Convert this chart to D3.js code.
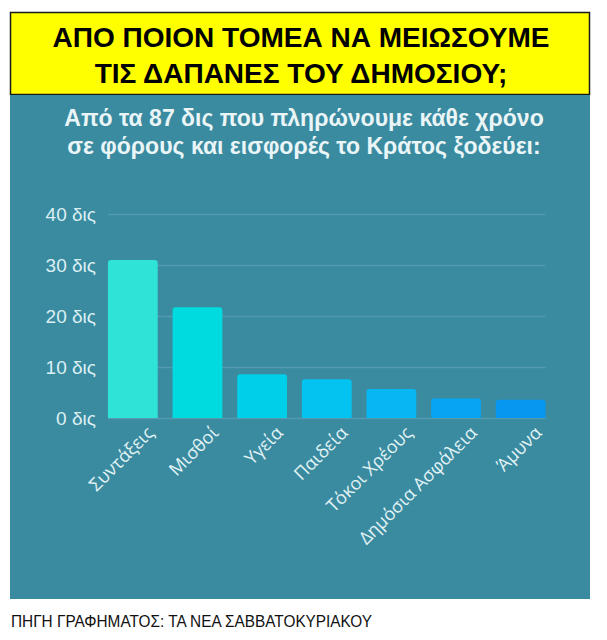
<!DOCTYPE html>
<html>
<head>
<meta charset="utf-8">
<script src="https://cdn.jsdelivr.net/npm/d3@7"></script>
<style>
  html, body { margin: 0; padding: 0; background: #ffffff; }
  svg { display: block; }
</style>
</head>
<body>
<svg id="chart" width="607" height="640"></svg>
<script>
// ---- data ----
const headline = ["ΑΠΟ ΠΟΙΟΝ ΤΟΜΕΑ ΝΑ ΜΕΙΩΣΟΥΜΕ", "ΤΙΣ ΔΑΠΑΝΕΣ ΤΟΥ ΔΗΜΟΣΙΟΥ;"];
const subtitle = ["Από τα 87 δις που πληρώνουμε κάθε χρόνο", "σε φόρους και εισφορές το Κράτος ξοδεύει:"];
const categories = ["Συντάξεις", "Μισθοί", "Υγεία", "Παιδεία", "Τόκοι Χρέους", "Δημόσια Ασφάλεια", "Άμυνα"];
const values = [31.0, 21.7, 8.6, 7.6, 5.7, 3.8, 3.6];
const barColors = ["#2fe3d6", "#00dbdf", "#00cfe9", "#05c3f0", "#09b6f4", "#06a4f3", "#0797f1"];
const yTicks = [0, 10, 20, 30, 40];
const yTickLabels = ["0 δις", "10 δις", "20 δις", "30 δις", "40 δις"];
const footer = "ΠΗΓΗ ΓΡΑΦΗΜΑΤΟΣ: ΤΑ ΝΕΑ ΣΑΒΒΑΤΟΚΥΡΙΑΚΟΥ";

// ---- drawing ----
const svg = d3.select("#chart");

// yellow headline box
svg.append("rect").attr("x", 10.5).attr("y", 12.5).attr("width", 579).attr("height", 82)
  .attr("fill", "#ffff00").attr("stroke", "#1a1a1a").attr("stroke-width", 1.5);
svg.selectAll("text.headline").data(headline).join("text")
  .attr("class", "headline")
  .attr("x", 301).attr("y", (d, i) => 47 + i * 36)
  .attr("text-anchor", "middle")
  .attr("font-family", "Liberation Sans, Arial, sans-serif")
  .attr("font-weight", "bold").attr("font-size", 28)
  .attr("fill", "#000")
  .text(d => d);

// teal panel
svg.append("rect").attr("x", 10).attr("y", 95).attr("width", 580).attr("height", 504)
  .attr("fill", "#3a8ba0");

svg.selectAll("text.sub").data(subtitle).join("text")
  .attr("class", "sub")
  .attr("x", 304).attr("y", (d, i) => 126 + i * 28)
  .attr("text-anchor", "middle")
  .attr("font-family", "Liberation Sans, Arial, sans-serif")
  .attr("font-weight", "bold").attr("font-size", 23)
  .attr("fill", "#eaf5f7")
  .text(d => d);

const x = d3.scaleBand().domain(categories).range([100.5, 553]).paddingInner(0.23).paddingOuter(0.115);
const y = d3.scaleLinear().domain([0, 40]).range([418, 214]);

const gx0 = x(categories[0]);
const gx1 = x(categories[categories.length - 1]) + x.bandwidth();

// y axis with gridlines
const yAxis = d3.axisLeft(y).tickValues(yTicks)
  .tickFormat((d, i) => yTickLabels[i])
  .tickSize(-(gx1 - gx0)).tickPadding(12);
const gy = svg.append("g").attr("transform", `translate(${gx0},0)`).call(yAxis);
gy.select(".domain").remove();
gy.selectAll(".tick line").attr("stroke", "#ffffff").attr("stroke-opacity", 0.13).attr("stroke-width", 1.5);
gy.selectAll(".tick text")
  .attr("font-family", "Liberation Sans, Arial, sans-serif")
  .attr("font-size", 19).attr("fill", "#dcf0f4");

// bars with rounded top corners
const r = 3;
svg.selectAll("path.bar").data(values).join("path")
  .attr("class", "bar")
  .attr("fill", (d, i) => barColors[i])
  .attr("d", (d, i) => {
    const x0 = x(categories[i]), w = x.bandwidth();
    const yt = y(d), yb = y(0);
    return `M${x0},${yb}V${yt + r}Q${x0},${yt} ${x0 + r},${yt}H${x0 + w - r}Q${x0 + w},${yt} ${x0 + w},${yt + r}V${yb}Z`;
  });

// x axis labels
const xAxis = d3.axisBottom(x).tickSize(0).tickPadding(0);
const gxa = svg.append("g").attr("transform", `translate(0,${y(0)})`).call(xAxis);
gxa.select(".domain").remove();
gxa.selectAll(".tick text")
  .attr("font-family", "Open Sans, sans-serif")
  .attr("font-size", 18).attr("fill", "#e3f3f6")
  .attr("text-anchor", "end")
  .attr("dy", 0)
  .attr("transform", "translate(22,16) rotate(-45)");

// footer
svg.append("text").attr("x", 11).attr("y", 627)
  .attr("font-family", "Liberation Sans, Arial, sans-serif")
  .attr("font-size", 16).attr("fill", "#111")
  .attr("textLength", 361).attr("lengthAdjust", "spacingAndGlyphs")
  .text(footer);
</script>
</body>
</html>
